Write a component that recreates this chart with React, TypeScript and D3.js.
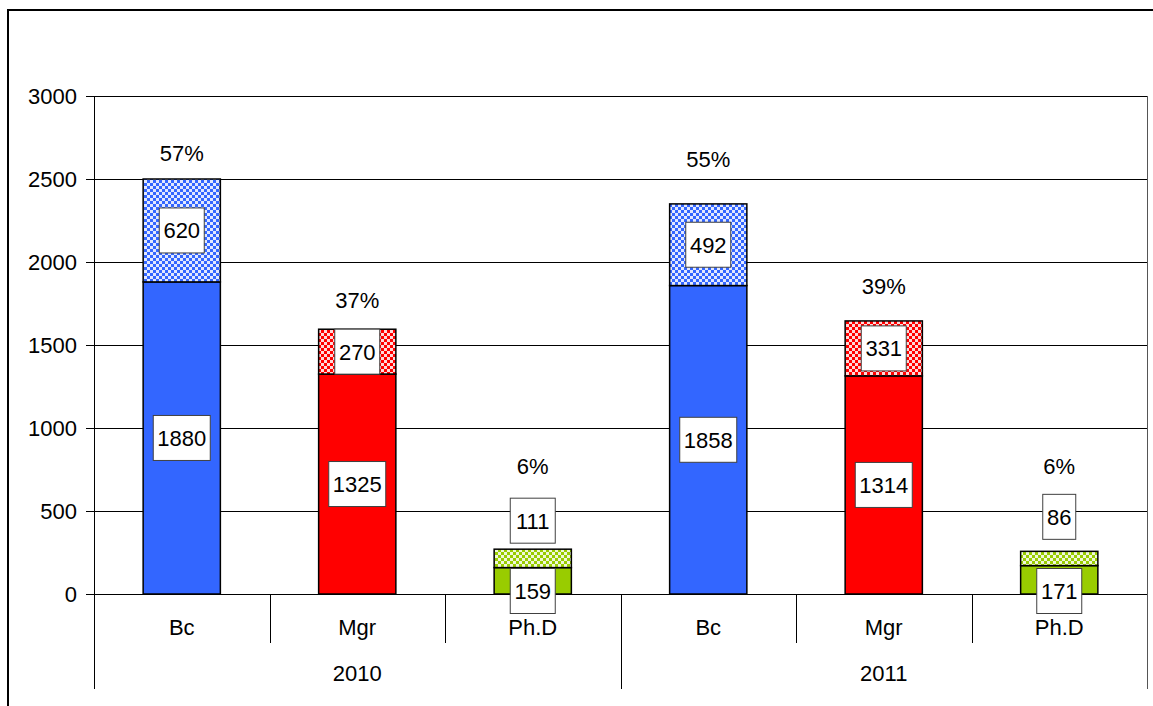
import React, { useEffect } from "react";
import * as d3 from "d3";

const years = ["2010", "2011"];
const levels = ["Bc", "Mgr", "Ph.D"];
const baseValues = [1880, 1325, 159, 1858, 1314, 171];
const extraValues = [620, 270, 111, 492, 331, 86];
const percentLabels = ["57%", "37%", "6%", "55%", "39%", "6%"];
const percentLabelAt = [2657, 1771, 771, 2620, 1855, 771];
const yTicks = [0, 500, 1000, 1500, 2000, 2500, 3000];
const levelColors = ["#3366FF", "#FF0000", "#99CC00"];

const W = 1153;
const H = 706;
const FONT = "Arial, 'Liberation Sans', sans-serif";
const FS = 22;

export default function App() {
  useEffect(() => {
    document.body.style.margin = "0";
  }, []);

  const cats = years.flatMap((yr) => levels.map((lv) => `${yr}|${lv}`));
  const x = d3.scaleBand<string>().domain(cats).range([94, 1147]).padding(0);
  const y = d3.scaleLinear().domain([0, 3000]).range([594, 96]);
  const bw = x.bandwidth();
  const barW = bw * 0.44;
  const crisp = (v: number) => Math.round(v) + 0.5;

  const boxW = (t: string) => t.length * 12 + 9;
  const boxH = 45;

  return (
    <svg width={W} height={H} style={{ display: "block" }} fontFamily={FONT}>
      <defs>
        {levelColors.map((c, i) => (
          <pattern key={i} id={`chk${i}`} width={6} height={6} patternUnits="userSpaceOnUse">
            <rect width={6} height={6} fill={c} />
            <rect x={0} y={0} width={3} height={3} fill="#fff" fillOpacity={0.85} />
            <rect x={3} y={3} width={3} height={3} fill="#fff" fillOpacity={0.85} />
          </pattern>
        ))}
      </defs>
      <rect x={0} y={0} width={W} height={H} fill="#fff" />
      <rect x={8} y={10} width={1150} height={710} fill="none" stroke="#000" strokeWidth={2} />

      {/* gridlines */}
      {yTicks.slice(1).map((t) => (
        <line key={t} x1={94} x2={1147} y1={crisp(y(t))} y2={crisp(y(t))} stroke="#000" strokeWidth={1} />
      ))}
      <line x1={crisp(1147)} x2={crisp(1147)} y1={96} y2={594} stroke="#555" strokeWidth={1} />

      {/* bars */}
      {cats.map((c, i) => {
        const lvl = i % levels.length;
        const cx = (x(c) as number) + bw / 2;
        const b = baseValues[i];
        const e = extraValues[i];
        return (
          <g key={c}>
            <rect x={cx - barW / 2} y={y(b)} width={barW} height={y(0) - y(b)} fill={levelColors[lvl]} stroke="#000" strokeWidth={1.5} />
            <rect x={cx - barW / 2} y={y(b + e)} width={barW} height={y(b) - y(b + e)} fill={`url(#chk${lvl})`} stroke="#000" strokeWidth={1.5} />
          </g>
        );
      })}

      {/* axes */}
      <line x1={crisp(94)} x2={crisp(94)} y1={96} y2={689} stroke="#000" strokeWidth={1} />
      <line x1={86} x2={1147} y1={crisp(y(0))} y2={crisp(y(0))} stroke="#000" strokeWidth={1} />
      {yTicks.map((t) => (
        <g key={t}>
          <line x1={86} x2={94} y1={crisp(y(t))} y2={crisp(y(t))} stroke="#000" strokeWidth={1} />
          <text x={77} y={y(t)} dy="0.36em" textAnchor="end" fontSize={FS} fill="#000">{t}</text>
        </g>
      ))}
      {cats.map((c, i) => {
        const x0 = x(c) as number;
        const isGroupStart = i % levels.length === 0;
        return (
          <g key={"ax" + c}>
            {i > 0 && (
              <line x1={crisp(x0)} x2={crisp(x0)} y1={594} y2={isGroupStart ? 689 : 643} stroke="#000" strokeWidth={1} />
            )}
            <text x={x0 + bw / 2} y={627} dy="0.36em" textAnchor="middle" fontSize={FS}>{levels[i % levels.length]}</text>
          </g>
        );
      })}
      <line x1={crisp(1147)} x2={crisp(1147)} y1={594} y2={689} stroke="#555" strokeWidth={1} />
      {years.map((yr) => {
        const x0 = x(`${yr}|${levels[0]}`) as number;
        return (
          <text key={yr} x={x0 + (bw * levels.length) / 2} y={673} dy="0.36em" textAnchor="middle" fontSize={FS}>{yr}</text>
        );
      })}

      {/* value labels */}
      {cats.map((c, i) => {
        const cx = (x(c) as number) + bw / 2;
        const b = baseValues[i];
        const e = extraValues[i];
        const baseH = y(0) - y(b);
        const extraH = y(b) - y(b + e);
        const baseCy = baseH < boxH - 6 ? y(0) - 3 : y(b / 2);
        const extraCy = extraH < boxH - 6 ? y(b + e) - 6 - boxH / 2 - (String(e).length < 3 ? 6 : 0) : y(b + e / 2);
        const items = [
          { t: String(b), cy: baseCy },
          { t: String(e), cy: extraCy },
        ];
        return (
          <g key={"lb" + c}>
            {items.map((it, k) => (
              <g key={k}>
                <rect x={cx - boxW(it.t) / 2} y={it.cy - boxH / 2} width={boxW(it.t)} height={boxH} fill="#fff" stroke="#404040" strokeWidth={1} />
                <text x={cx} y={it.cy} dy="0.36em" textAnchor="middle" fontSize={FS}>{it.t}</text>
              </g>
            ))}
            <text x={cx} y={y(percentLabelAt[i])} dy="0.36em" textAnchor="middle" fontSize={FS}>{percentLabels[i]}</text>
          </g>
        );
      })}
    </svg>
  );
}
